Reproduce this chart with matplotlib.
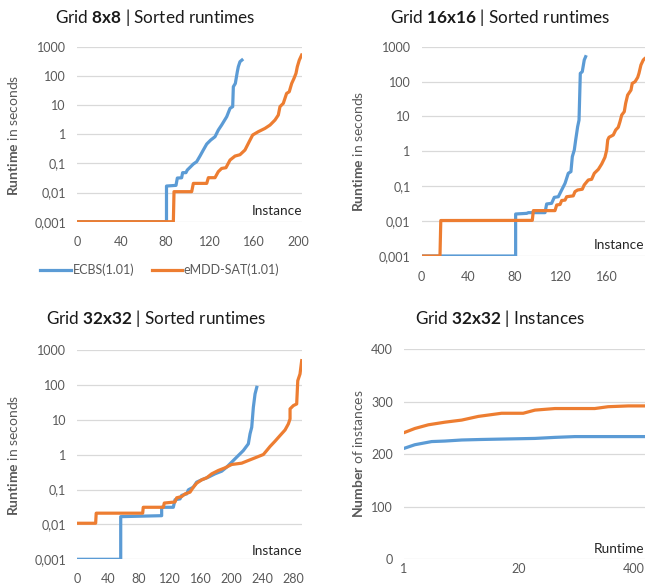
# sorted runtimes of ECBS vs eMDD-SAT on grids, excel-look panels
import matplotlib
matplotlib.use("Agg")
import matplotlib.pyplot as plt
from matplotlib.lines import Line2D
from matplotlib.ticker import NullLocator

plt.rcParams['font.family'] = ['Lato', 'DejaVu Sans']
plt.rcParams['mathtext.fontset'] = 'custom'
plt.rcParams['mathtext.rm'] = 'Lato'
plt.rcParams['mathtext.bf'] = 'Lato:bold'

BLUE = '#5B9BD5'
ORANGE = '#ED7D31'
GRID = '#D9D9D9'
TXT = '#595959'

# grid 8x8
g8_ecbs_x = [0, 81, 81, 89.6, 90.8, 94.7, 95.6, 98.6, 99.8, 102.9, 105.3, 108.3, 111.3, 114.3,
             117.4, 121, 124.9, 127.9, 130.9, 135.5, 138.5, 140.9, 141.5, 143.3, 145.1, 146, 147.5, 149.3]
g8_ecbs_y = [0.001, 0.001, 0.0167, 0.0176, 0.0314, 0.032, 0.048, 0.048, 0.059, 0.077, 0.095, 0.114,
             0.178, 0.286, 0.46, 0.63, 0.82, 1.39, 2.06, 3.98, 7.7, 8.8, 42.5, 55, 139, 206, 306, 349]
g8_emdd_x = [0, 87.2, 87.8, 103.8, 105.3, 117.4, 118.9, 124.9, 127.9, 130.9, 134.8, 138.5, 143, 147.5,
             152, 156.6, 159, 164.1, 170.1, 174.7, 179.2, 182.2, 183.7, 186.7, 188.2, 189.7, 192.1,
             194.3, 196.4, 198.2, 199.4, 201.2, 203.3]
g8_emdd_y = [0.001, 0.001, 0.0107, 0.0107, 0.0206, 0.0206, 0.0323, 0.0323, 0.052, 0.067, 0.071, 0.13,
             0.178, 0.198, 0.286, 0.63, 0.94, 1.22, 1.58, 2.06, 3.06, 4.54, 8.8, 11.4, 16.9, 25, 28.6,
             55, 82, 122, 206, 349, 518]

# grid 16x16
g16_ecbs_x = [0, 81.2, 81.2, 90.8, 92.2, 106.6, 108, 112.3, 114.6, 118.1, 121, 123.9, 126.7, 129,
              130.2, 131.9, 133.1, 134.8, 136, 137.1, 138.8, 140.5, 141.7]
g16_ecbs_y = [0.001, 0.001, 0.016, 0.0167, 0.0175, 0.0175, 0.031, 0.0324, 0.048, 0.05, 0.078, 0.121,
              0.235, 0.262, 0.705, 1.09, 2.12, 5.1, 7.9, 172, 192, 415, 517]
g16_emdd_x = [0, 15.8, 16.5, 95.6, 96.5, 115.2, 116.7, 119.6, 121, 123.9, 125.3, 131, 132.5, 134.8,
              138.8, 140.5, 144, 146.9, 149.2, 152.7, 155.6, 158.4, 159.9, 160.8, 161.9, 165.6, 167.7,
              169.9, 171.4, 172.9, 175.1, 176.3, 178, 180.9, 182, 184.4, 186.7, 187.8, 189.5, 191.5,
              193, 196]
g16_emdd_y = [0.001, 0.001, 0.0104, 0.0105, 0.02, 0.02, 0.029, 0.03, 0.039, 0.04, 0.05, 0.053, 0.07,
              0.078, 0.082, 0.109, 0.151, 0.158, 0.235, 0.305, 0.435, 0.675, 1.09, 2.12, 2.53, 2.94,
              4.1, 4.9, 7.1, 11, 13.7, 23.8, 41, 57, 89, 99, 132, 172, 299, 415, 463, 540]

# grid 32x32
g32_ecbs_x = [0, 56.3, 56.3, 109.4, 109.4, 124.5, 126.7, 133.2, 135.4, 141.9, 144, 150.5, 154.8,
              161.3, 169.9, 178.6, 187.3, 193.7, 204.5, 215.3, 221.8, 224, 226.2, 228.3, 230.5, 232.7]
g32_ecbs_y = [0.001, 0.001, 0.0167, 0.0178, 0.031, 0.031, 0.051, 0.054, 0.068, 0.075, 0.098, 0.117,
              0.163, 0.19, 0.226, 0.282, 0.336, 0.438, 0.759, 1.31, 2.04, 3.94, 6.1, 22.8, 55, 85]
g32_emdd_x = [0, 23.8, 24.5, 84.8, 85.5, 111.6, 112.8, 126.7, 128.9, 135.4, 139.7, 146.2, 150.5,
              154.8, 161.3, 167.8, 174.3, 182.9, 191.6, 200.2, 213.2, 221.8, 230.5, 241.3, 245.6,
              249.9, 256.4, 262.9, 269.4, 273.7, 275.9, 275.9, 280.2, 284.5, 285.9, 288.8, 291]
g32_emdd_y = [0.0108, 0.0108, 0.021, 0.021, 0.031, 0.031, 0.041, 0.044, 0.058, 0.063, 0.075, 0.084,
              0.117, 0.152, 0.19, 0.217, 0.282, 0.352, 0.419, 0.522, 0.57, 0.68, 0.81, 1.01, 1.31,
              1.71, 2.43, 3.53, 5.1, 7.6, 10.6, 20.5, 25.5, 28.4, 132, 205, 495]

# grid 32x32 solved instances vs runtime
inst_ecbs_t = [1, 1.33, 2.06, 2.92, 4.52, 7.6, 15.2, 30.6, 51.6, 87, 146, 600]
inst_ecbs_n = [211, 218, 224, 225, 227, 228, 229, 230, 232, 233.5, 233.5, 233.5]
inst_emdd_t = [1, 1.33, 1.89, 2.92, 4.52, 6.97, 12.8, 22.5, 30.6, 51.6, 146, 207, 351, 600]
inst_emdd_n = [241, 249, 256, 261, 265, 272, 278, 278, 284, 287, 287, 290.5, 292, 292]

log_ticks = [0.001, 0.01, 0.1, 1, 10, 100, 1000]
log_labels = ['0,001', '0,01', '0,1', '1', '10', '100', '1000']

W, H = 645, 585
fig = plt.figure(figsize=(W / 100, H / 100), dpi=100)


def px_axes(left, right, top, bottom):
    return fig.add_axes([left / W, 1 - bottom / H, (right - left) / W, (bottom - top) / H])


def style(ax, xpad):
    for s in ax.spines.values():
        s.set_visible(False)
    ax.grid(axis='y', color=GRID, lw=0.9)
    ax.set_axisbelow(True)
    ax.tick_params(length=0, labelsize=9, labelcolor=TXT)
    ax.tick_params(axis='x', pad=xpad)
    ax.tick_params(axis='y', pad=8)
    ax.xaxis.set_minor_locator(NullLocator())
    ax.yaxis.set_minor_locator(NullLocator())


def runtime_panel(ax, ex, ey, mx, my, xmax, xticks, xpad):
    ax.plot(ex, ey, color=BLUE, lw=2.3, solid_joinstyle='round')
    ax.plot(mx, my, color=ORANGE, lw=2.3, solid_joinstyle='round')
    ax.set_yscale('log')
    ax.set_ylim(0.001, 1000)
    ax.set_yticks(log_ticks, log_labels)
    ax.set_xlim(0, xmax)
    ax.set_xticks(xticks)
    style(ax, xpad)


def fpx(x, y):
    return x / W, 1 - y / H


ax1 = px_axes(77, 302.4, 46.7, 221.7)
runtime_panel(ax1, g8_ecbs_x, g8_ecbs_y, g8_emdd_x, g8_emdd_y, 204, [0, 40, 80, 120, 160, 200], 10)

# right edge of this panel is cut off in the original, so the 200 label is not shown
ax2 = px_axes(421.7, 657.7, 46.7, 256)
runtime_panel(ax2, g16_ecbs_x, g16_ecbs_y, g16_emdd_x, g16_emdd_y, 204, [0, 40, 80, 120, 160], 11)

ax3 = px_axes(77.3, 301.7, 350, 559.3)
runtime_panel(ax3, g32_ecbs_x, g32_ecbs_y, g32_emdd_x, g32_emdd_y, 291,
              [0, 40, 80, 120, 160, 200, 240, 280], 10)

ax4 = px_axes(404, 748, 349.3, 559)
ax4.plot(inst_ecbs_t, inst_ecbs_n, color=BLUE, lw=2.3)
ax4.plot(inst_emdd_t, inst_emdd_n, color=ORANGE, lw=2.3)
ax4.set_xscale('log', base=20)
ax4.set_xlim(1, 8000)
ax4.set_ylim(0, 400)
ax4.set_xticks([1, 20, 400], ['1', '20', '400'])
ax4.set_yticks([0, 100, 200, 300, 400])
style(ax4, 3)

# titles
titles = [(155, 17, r'Grid $\mathbf{8x8}$ | Sorted runtimes'),
          (500, 17, r'Grid $\mathbf{16x16}$ | Sorted runtimes'),
          (156, 319, r'Grid $\mathbf{32x32}$ | Sorted runtimes'),
          (500, 319, r'Grid $\mathbf{32x32}$ | Instances')]
for x, y, s in titles:
    fig.text(*fpx(x, y), s, ha='center', va='center', fontsize=12.3, color='#1a1a1a')

# y labels
ylabels = [(13.3, 135.5, r'$\mathbf{Runtime}$ in seconds'),
           (357.7, 151.7, r'$\mathbf{Runtime}$ in seconds'),
           (13.3, 455, r'$\mathbf{Runtime}$ in seconds'),
           (357.7, 454, r'$\mathbf{Number}$ of instances')]
for x, y, s in ylabels:
    fig.text(*fpx(x, y), s, ha='center', va='center', rotation=90, fontsize=10, color=TXT)

# axis names inside plot area
fig.text(*fpx(302, 211), 'Instance', ha='right', va='center', fontsize=9.8, color='#262626')
fig.text(*fpx(594, 245), 'Instance', ha='left', va='center', fontsize=9.8, color='#262626')
fig.text(*fpx(302, 551), 'Instance', ha='right', va='center', fontsize=9.8, color='#262626')
fig.text(*fpx(594, 549.3), 'Runtime', ha='left', va='center', fontsize=9.8, color='#262626')

# legend under first panel
for x0, x1, c, lab in [(40, 71, BLUE, 'ECBS(1.01)'), (152, 182, ORANGE, 'eMDD-SAT(1.01)')]:
    fig.add_artist(Line2D([x0 / W, x1 / W], [1 - 270 / H] * 2, color=c, lw=2.3))
    fig.text(*fpx(x1 + 2, 270), lab, ha='left', va='center', fontsize=9, color=TXT)

fig.savefig('out.png', dpi=100)
